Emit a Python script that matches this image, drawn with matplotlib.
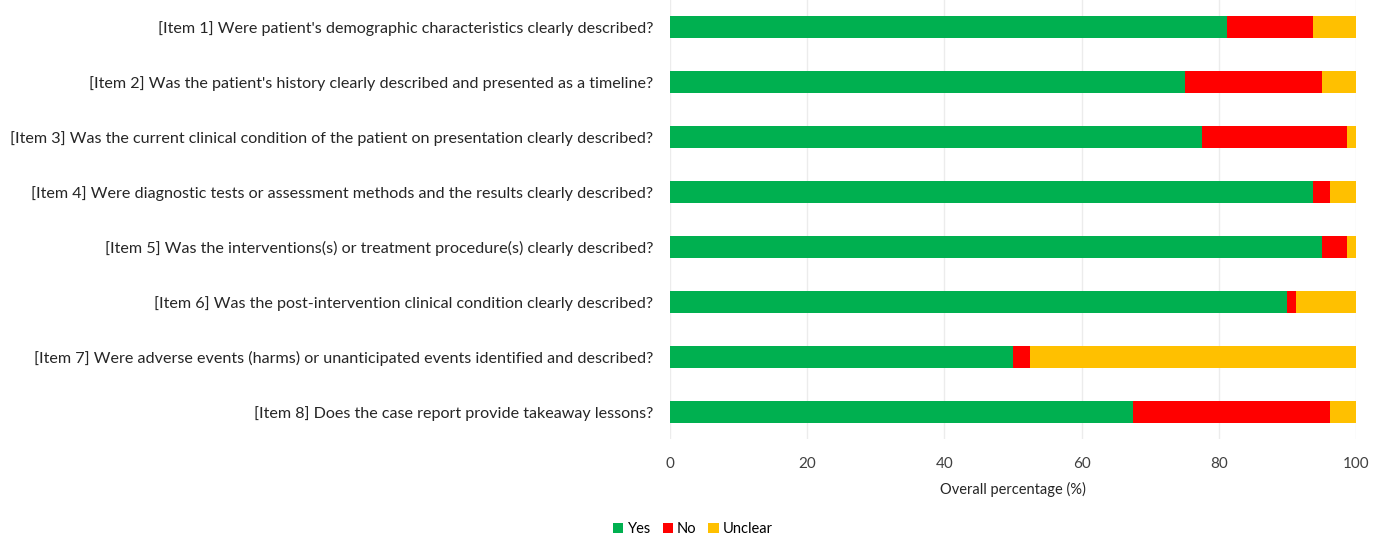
import matplotlib.pyplot as plt
import numpy as np

items = [
    "[Item 1] Were patient's demographic characteristics clearly described?",
    "[Item 2] Was the patient's history clearly described and presented as a timeline?",
    "[Item 3] Was the current clinical condition of the patient on presentation clearly described?",
    "[Item 4] Were diagnostic tests or assessment methods and the results clearly described?",
    "[Item 5] Was the interventions(s) or treatment procedure(s) clearly described?",
    "[Item 6] Was the post-intervention clinical condition clearly described?",
    "[Item 7] Were adverse events (harms) or unanticipated events identified and described?",
    "[Item 8] Does the case report provide takeaway lessons?",
]
yes = [81.25, 75.0, 77.5, 93.75, 95.0, 90.0, 50.0, 67.5]
no = [12.5, 20.0, 21.25, 2.5, 3.75, 1.25, 2.5, 28.75]
unclear = [6.25, 5.0, 1.25, 3.75, 1.25, 8.75, 47.5, 3.75]

plt.rcParams['font.family'] = ['Lato', 'DejaVu Sans']

fig = plt.figure(figsize=(13.86, 5.36), dpi=100)
ax = fig.add_axes([0.4834, 0.181, 0.495, 0.819])

y = np.arange(len(items))
h = 0.4
ax.barh(y, yes, height=h, color='#00B050', label='Yes', zorder=3)
ax.barh(y, no, left=yes, height=h, color='#FF0000', label='No', zorder=3)
left2 = np.array(yes) + np.array(no)
ax.barh(y, unclear, left=left2, height=h, color='#FFC000', label='Unclear', zorder=3)

ax.set_ylim(len(items) - 0.5, -0.5)
ax.set_xlim(0, 100)
ax.set_xticks(range(0, 101, 20))
ax.set_yticks(y)
ax.set_yticklabels(items, fontsize=11.6, color='#262626')
ax.tick_params(axis='x', labelsize=11, colors='#404040', length=0, pad=13)
ax.tick_params(axis='y', length=0, pad=12)
ax.xaxis.grid(True, color='#ececec', linewidth=1, zorder=0)
for s in ax.spines.values():
    s.set_visible(False)
ax.set_xlabel('Overall percentage (%)', fontsize=10.5, color='#262626', labelpad=8)

fig.legend(loc='lower center', bbox_to_anchor=(0.5, -0.025), ncol=3, frameon=False,
           fontsize=10.5, handlelength=0.7, handleheight=0.7, handletextpad=0.3,
           columnspacing=0.8)

fig.savefig('out.png', dpi=100)
